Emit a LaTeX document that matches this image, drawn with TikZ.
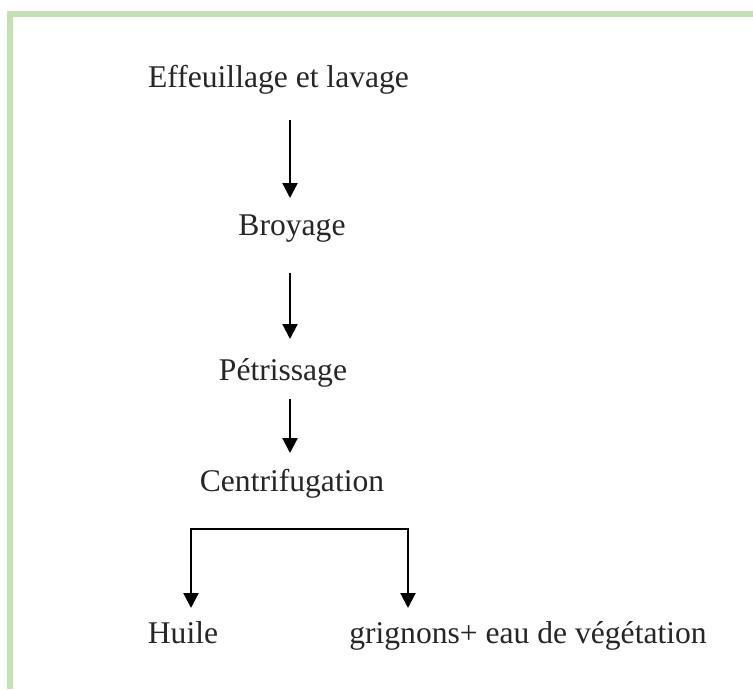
\documentclass[tikz,border=0pt]{standalone}
\usepackage{fontspec}
\setmainfont{Liberation Serif}
\usetikzlibrary{arrows.meta}
\definecolor{framegreen}{RGB}{197,224,180}
\begin{document}
\begin{tikzpicture}[x=1pt,y=-1pt,
  lbl/.style={anchor=base,inner sep=0pt,text=black!85,font=\fontsize{31.6}{36}\selectfont},
  arr/.style={line width=2.2pt,-{Triangle[length=15pt,width=15pt]}},
  conn/.style={line width=2.2pt}]
\useasboundingbox (0,0) rectangle (753,689);
\fill[white] (0,0) rectangle (753,689);
\fill[framegreen] (7,11) rectangle (753,17);
\fill[framegreen] (7,11) rectangle (13,689);
\node[lbl] (n1) at (278.5,87) {Effeuillage et lavage};
\node[lbl] (n2) at (292,235) {Broyage};
\node[lbl] (n3) at (283,380) {Pétrissage};
\node[lbl] (n4) at (292,491) {Centrifugation};
\node[lbl] (n5) at (183,643) {Huile};
\node[lbl] (n6) at (528,643) {grignons+ eau de végétation};
\coordinate (a1s) at (290,120); \coordinate (a1e) at (290,198);
\coordinate (a2s) at (290,273); \coordinate (a2e) at (290,339);
\coordinate (a3s) at (290,399); \coordinate (a3e) at (290,453);
\coordinate (bl) at (191,529); \coordinate (br) at (408,529);
\coordinate (tl) at (191,608); \coordinate (tr) at (408,608);
\draw[arr] (a1s) -- (a1e);
\draw[arr] (a2s) -- (a2e);
\draw[arr] (a3s) -- (a3e);
\draw[conn,line cap=rect] (bl) -- (br);
\draw[arr] (bl) -- (tl);
\draw[arr] (br) -- (tr);
\end{tikzpicture}
\end{document}
